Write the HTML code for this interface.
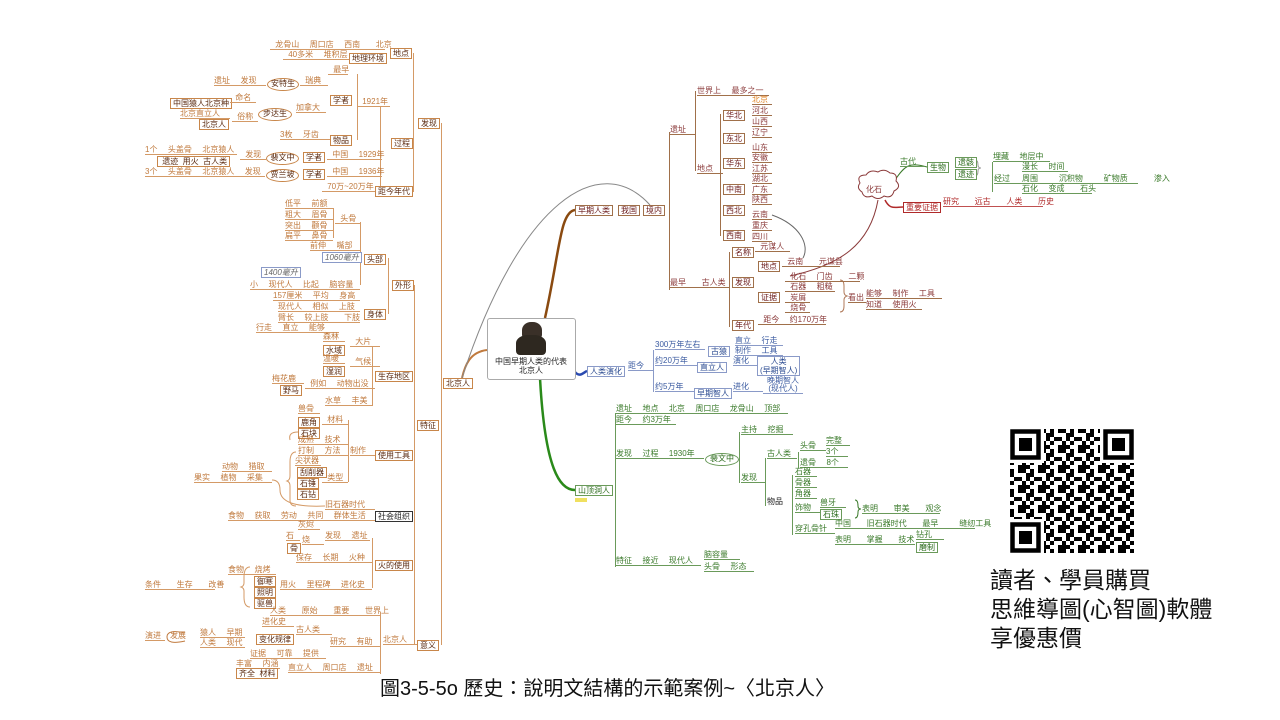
<!DOCTYPE html>
<html><head><meta charset="utf-8">
<style>
body{margin:0;width:1280px;height:720px;background:#fff;position:relative;overflow:hidden;font-family:"Liberation Sans","Noto Sans CJK SC",sans-serif}
div{position:absolute}
.o,.r,.g,.u{font-size:8px;line-height:9px;white-space:pre;word-spacing:3px}
.o{color:#c07a3e;border-bottom:1px solid #d49a66}
.ob{color:#5a2a10;border:1px solid #c8864a;background:#fff;padding:0 2px;font-size:8px;line-height:9px;white-space:pre}
.oe{color:#5a2a10;border:1px solid #c8864a;border-radius:50%;background:#fff;font-size:8px;line-height:10px;text-align:center}
.r{color:#8b3a3a;border-bottom:1px solid #a0704a}
.rb{color:#6a1a1a;border:1px solid #a0704a;background:#fff;padding:0 2px;font-size:8px;line-height:9px;white-space:pre}
.g{color:#3a7a2a;border-bottom:1px solid #6a9a5a}
.gb{color:#2a6a1a;border:1px solid #6a9a5a;background:#fff;padding:0 2px;font-size:8px;line-height:9px;white-space:pre}
.u{color:#3a5aa0;border-bottom:1px solid #8a9ac8}
.ub{color:#2a4a90;border:1px solid #8a9ac8;background:#fff;padding:0 2px;font-size:8px;line-height:9px;white-space:pre;text-align:center}
.vo{border-left:1px solid #d49a66}
.vr{border-left:1px solid #a0704a}
.vg{border-left:1px solid #6a9a5a}
.vu{border-left:1px solid #8a9ac8}
</style></head><body>
<svg width="1280" height="720" style="position:absolute;left:0;top:0">
<path d="M545 318 C560 250,560 212,575 210" stroke="#8a4a10" stroke-width="2.5" fill="none"/>
<path d="M575 372 C580 378,584 372,587 371" stroke="#2a4ab0" stroke-width="2.5" fill="none"/>
<path d="M540 378 C545 470,560 490,575 490" stroke="#2a8a1a" stroke-width="2.5" fill="none"/>
<path d="M487 350 C470 352,465 365,462 378" stroke="#c07a3e" stroke-width="2" fill="none"/>
<path d="M650 205 C600 150,520 200,462 378" stroke="#888" stroke-width="1" fill="none"/>
<path d="M772 215 C800 225,810 245,803 258" stroke="#666" stroke-width="1" fill="none"/>
<path d="M878 200 C870 245,840 265,790 276" stroke="#8b3a3a" stroke-width="1" fill="none"/>
<path d="M895 180 C905 165,910 162,927 167" stroke="#3a7a2a" stroke-width="1" fill="none"/>
<path d="M885 200 C890 210,895 207,903 207" stroke="#b02a2a" stroke-width="1.5" fill="none"/>
<path d="M860 183 q-4 -8 6 -8 q4 -6 12 -3 q6 -4 12 1 q8 0 6 8 q6 6 -2 10 q-2 8 -10 5 q-6 5 -12 0 q-8 3 -10 -4 q-6 -4 -2 -9z" stroke="#8b3a3a" fill="#fff"/>
<path d="M296 452 q-6 0 -6 10 v14 q0 4 -3 5 q3 1 3 5 v14 q0 6 6 6" stroke="#d49a66" fill="none"/>
<path d="M272 480 q8 0 8 10 q0 18 45 16" stroke="#d49a66" fill="none"/>
<path d="M250 567 q-6 0 -6 10 v6 q0 3 -3 4 q3 1 3 4 v6 q0 10 6 10" stroke="#d49a66" fill="none"/>
<path d="M298 432 q-10 0 -8 8" stroke="#d49a66" fill="none"/>
<path d="M185 633 q-18 -4 -18 4 q0 8 18 4" stroke="#c07a3e" fill="none"/>
<path d="M975 160 q3 0 3 5 q0 3 3 3 q-3 0 -3 3 q0 5 -3 5" stroke="#999" fill="none"/>
<path d="M840 280 q4 0 4 6 v6 q0 3 3 4 q-3 1 -3 4 v6 q0 6 -4 6" stroke="#b07a5a" fill="none"/>
<path d="M855 500 q3 0 3 6 q0 3 3 3 q-3 0 -3 3 q0 6 -3 6" stroke="#3a7a2a" fill="none"/>
</svg>

<!-- center -->
<div style="left:487px;top:318px;width:87px;height:60px;border:1px solid #aaa;border-radius:3px;background:#fff"></div>
<div style="left:522px;top:322px;width:20px;height:18px;background:#3a3028;border-radius:45% 45% 30% 30%"></div>
<div style="left:516px;top:335px;width:30px;height:20px;background:#2e2820;border-radius:40% 40% 4px 4px"></div>
<div style="left:487px;top:357px;width:88px;text-align:center;font-size:8px;line-height:9px;color:#222">中国早期人类的代表<br>北京人</div>

<!-- LEFT orange -->
<div class="vo" style="left:441px;top:123px;height:522px"></div>
<div class="ob" style="left:443px;top:378px">北京人</div>
<div class="ob" style="left:418px;top:118px">发现</div>
<div class="vo" style="left:413px;top:53px;height:139px"></div>
<div class="o" style="left:270px;top:40px;width:115px"> 龙骨山  周口店  西南   北京</div>
<div class="ob" style="left:390px;top:48px">地点</div>
<div class="o" style="left:283px;top:50px;width:66px"> 40多米  堆积层</div>
<div class="ob" style="left:349px;top:53px">地理环境</div>
<div class="o" style="left:328px;top:65px;width:20px"> 最早</div>
<div class="vo" style="left:357px;top:74px;height:66px"></div>
<div class="o" style="left:214px;top:76px;width:52px">遗址  发现</div>
<div class="oe" style="left:267px;top:78px;width:30px;height:11px">安特生</div>
<div class="o" style="left:300px;top:76px;width:28px"> 瑞典</div>
<div class="ob" style="left:330px;top:95px">学者</div>
<div class="o" style="left:357px;top:97px;width:33px"> 1921年</div>
<div class="vo" style="left:380px;top:106px;height:80px"></div>
<div class="ob" style="left:170px;top:98px">中国猿人北京种</div>
<div class="o" style="left:230px;top:93px;width:26px"> 命名</div>
<div class="oe" style="left:258px;top:108px;width:32px;height:11px">步达生</div>
<div class="o" style="left:296px;top:103px;width:30px">加拿大</div>
<div class="o" style="left:180px;top:109px;width:50px">北京直立人</div>
<div class="o" style="left:232px;top:112px;width:26px"> 俗称</div>
<div class="ob" style="left:199px;top:119px">北京人</div>
<div class="o" style="left:280px;top:130px;width:50px">3枚  牙齿</div>
<div class="ob" style="left:330px;top:135px">物品</div>
<div class="ob" style="left:391px;top:138px">过程</div>
<div class="o" style="left:145px;top:145px;width:92px">1个  头盖骨  北京猿人</div>
<div class="o" style="left:240px;top:150px;width:26px"> 发现</div>
<div class="ob" style="left:157px;top:156px"> 遗迹  用火  古人类</div>
<div class="oe" style="left:266px;top:152px;width:31px;height:11px">裴文中</div>
<div class="ob" style="left:303px;top:152px">学者</div>
<div class="o" style="left:327px;top:150px;width:55px"> 中国  1929年</div>
<div class="o" style="left:145px;top:167px;width:120px">3个  头盖骨  北京猿人  发现</div>
<div class="oe" style="left:266px;top:169px;width:31px;height:11px">贾兰坡</div>
<div class="ob" style="left:303px;top:169px">学者</div>
<div class="o" style="left:327px;top:167px;width:55px"> 中国  1936年</div>
<div class="o" style="left:322px;top:182px;width:53px"> 70万~20万年</div>
<div class="ob" style="left:375px;top:186px">距今年代</div>

<div class="o" style="left:285px;top:199px;width:48px">低平  前额</div>
<div class="o" style="left:285px;top:210px;width:48px">粗大  眉骨</div>
<div class="o" style="left:285px;top:221px;width:48px">突出  颧骨</div>
<div class="o" style="left:285px;top:231px;width:48px">扁平  鼻骨</div>
<div class="vo" style="left:333px;top:208px;height:30px"></div>
<div class="o" style="left:335px;top:214px;width:26px"> 头骨</div>
<div class="vo" style="left:360px;top:222px;height:63px"></div>
<div class="o" style="left:310px;top:241px;width:50px">前伸  嘴部</div>
<div class="ub" style="left:322px;top:252px;font-style:italic;color:#666">1060毫升</div>
<div class="ob" style="left:364px;top:254px">头部</div>
<div class="ub" style="left:261px;top:267px;font-style:italic;color:#666">1400毫升</div>
<div class="o" style="left:250px;top:280px;width:110px">小  现代人  比起  脑容量</div>
<div class="ob" style="left:392px;top:280px">外形</div>
<div class="vo" style="left:388px;top:258px;height:56px"></div>
<div class="o" style="left:273px;top:291px;width:87px">157厘米  平均  身高</div>
<div class="o" style="left:278px;top:302px;width:82px">现代人  相似  上肢</div>
<div class="ob" style="left:364px;top:309px">身体</div>
<div class="o" style="left:278px;top:313px;width:82px">臂长  较上肢   下肢</div>
<div class="o" style="left:256px;top:323px;width:83px">行走  直立  能够</div>
<div class="vo" style="left:414px;top:285px;height:360px"></div>
<div class="o" style="left:323px;top:332px;width:22px">森林</div>
<div class="ob" style="left:323px;top:345px">水域</div>
<div class="o" style="left:350px;top:337px;width:30px"> 大片</div>
<div class="o" style="left:323px;top:354px;width:22px">温暖</div>
<div class="ob" style="left:323px;top:366px">湿润</div>
<div class="o" style="left:350px;top:357px;width:30px"> 气候</div>
<div class="vo" style="left:372px;top:346px;height:60px"></div>
<div class="ob" style="left:375px;top:371px">生存地区</div>
<div class="o" style="left:272px;top:374px;width:32px">梅花鹿</div>
<div class="ob" style="left:280px;top:385px">野马</div>
<div class="o" style="left:305px;top:379px;width:70px"> 例如  动物出没</div>
<div class="o" style="left:325px;top:396px;width:47px">水草  丰美</div>
<div class="ob" style="left:417px;top:420px">特征</div>
<div class="o" style="left:298px;top:404px;width:22px">兽骨</div>
<div class="ob" style="left:298px;top:417px">鹿角</div>
<div class="o" style="left:322px;top:415px;width:26px"> 材料</div>
<div class="ob" style="left:298px;top:428px">石块</div>
<div class="o" style="left:298px;top:435px;width:50px">成熟  技术</div>
<div class="o" style="left:298px;top:446px;width:50px">打制  方法</div>
<div class="vo" style="left:348px;top:420px;height:62px"></div>
<div class="o" style="left:350px;top:446px;width:25px">制作</div>
<div class="ob" style="left:375px;top:450px">使用工具</div>
<div class="o" style="left:295px;top:456px;width:26px">尖状器</div>
<div class="ob" style="left:297px;top:467px">刮削器</div>
<div class="ob" style="left:297px;top:478px">石锤</div>
<div class="o" style="left:322px;top:473px;width:26px"> 类型</div>
<div class="ob" style="left:297px;top:489px">石钻</div>
<div class="o" style="left:222px;top:462px;width:50px">动物  猎取</div>
<div class="o" style="left:194px;top:473px;width:78px">果实  植物  采集</div>
<div class="o" style="left:325px;top:500px;width:50px">旧石器时代</div>
<div class="o" style="left:228px;top:511px;width:147px">食物  获取  劳动  共同  群体生活</div>
<div class="ob" style="left:375px;top:511px;color:#222;border-color:#333">社会组织</div>
<div class="o" style="left:298px;top:520px;width:22px">灰烬</div>
<div class="o" style="left:286px;top:531px;width:14px">石</div>
<div class="ob" style="left:287px;top:543px">骨</div>
<div class="o" style="left:302px;top:535px;width:22px">烧</div>
<div class="o" style="left:325px;top:531px;width:45px">发现  遗址</div>
<div class="vo" style="left:372px;top:538px;height:50px"></div>
<div class="o" style="left:296px;top:553px;width:76px">保存  长期  火种</div>
<div class="ob" style="left:375px;top:560px">火的使用</div>
<div class="o" style="left:228px;top:565px;width:48px">食物  烧烤</div>
<div class="ob" style="left:254px;top:576px">御寒</div>
<div class="o" style="left:145px;top:580px;width:70px">条件   生存   改善</div>
<div class="o" style="left:280px;top:580px;width:92px">用火  里程碑  进化史</div>
<div class="ob" style="left:254px;top:587px">照明</div>
<div class="ob" style="left:254px;top:598px">驱兽</div>
<div class="o" style="left:270px;top:606px;width:110px">人类   原始   重要   世界上</div>
<div class="vo" style="left:380px;top:612px;height:62px"></div>
<div class="o" style="left:262px;top:617px;width:32px">进化史</div>
<div class="o" style="left:296px;top:625px;width:36px">古人类</div>
<div class="o" style="left:145px;top:631px;width:20px">演进</div>
<div class="o" style="left:170px;top:631px;width:18px;border:none">发展</div>
<div class="o" style="left:200px;top:628px;width:45px">猿人  早期</div>
<div class="ob" style="left:256px;top:634px">变化规律</div>
<div class="o" style="left:200px;top:638px;width:45px">人类  现代</div>
<div class="o" style="left:330px;top:637px;width:50px">研究  有助</div>
<div class="o" style="left:383px;top:635px;width:34px">北京人</div>
<div class="ob" style="left:417px;top:640px">意义</div>
<div class="o" style="left:250px;top:649px;width:76px">证据  可靠  提供</div>
<div class="o" style="left:236px;top:659px;width:44px">丰富  内涵</div>
<div class="ob" style="left:236px;top:668px">齐全  材料</div>
<div class="o" style="left:288px;top:663px;width:92px">直立人  周口店  遗址</div>

<!-- RIGHT red -->
<div class="rb" style="left:575px;top:205px">早期人类</div>
<div class="rb" style="left:618px;top:205px">我国</div>
<div class="rb" style="left:643px;top:205px">境内</div>
<div class="vr" style="left:669px;top:132px;height:158px"></div>
<div class="r" style="left:670px;top:125px;width:25px">遗址</div>
<div class="vr" style="left:695px;top:91px;height:80px"></div>
<div class="r" style="left:697px;top:86px;width:72px">世界上  最多之一</div>
<div class="r" style="left:697px;top:164px;width:26px">地点</div>
<div class="vr" style="left:720px;top:114px;height:122px"></div>
<div class="rb" style="left:723px;top:110px">华北</div>
<div class="rb" style="left:723px;top:133px">东北</div>
<div class="rb" style="left:723px;top:158px">华东</div>
<div class="rb" style="left:723px;top:184px">中南</div>
<div class="rb" style="left:723px;top:205px">西北</div>
<div class="rb" style="left:723px;top:230px">西南</div>
<div class="r" style="left:752px;top:95px;width:20px;color:#e08020">北京</div>
<div class="r" style="left:752px;top:106px;width:20px">河北</div>
<div class="r" style="left:752px;top:117px;width:20px">山西</div>
<div class="r" style="left:752px;top:128px;width:20px">辽宁</div>
<div class="r" style="left:752px;top:143px;width:20px">山东</div>
<div class="r" style="left:752px;top:153px;width:20px">安徽</div>
<div class="r" style="left:752px;top:164px;width:20px">江苏</div>
<div class="r" style="left:752px;top:174px;width:20px">湖北</div>
<div class="r" style="left:752px;top:185px;width:20px">广东</div>
<div class="r" style="left:752px;top:195px;width:20px">陕西</div>
<div class="r" style="left:752px;top:210px;width:20px">云南</div>
<div class="r" style="left:752px;top:221px;width:20px">重庆</div>
<div class="r" style="left:752px;top:232px;width:20px">四川</div>
<div class="r" style="left:670px;top:278px;width:60px">最早   古人类</div>
<div class="vr" style="left:729px;top:252px;height:75px"></div>
<div class="rb" style="left:732px;top:247px">名称</div>
<div class="r" style="left:755px;top:242px;width:35px"> 元谋人</div>
<div class="rb" style="left:758px;top:261px">地点</div>
<div class="r" style="left:782px;top:257px;width:58px"> 云南   元谋县</div>
<div class="rb" style="left:732px;top:277px">发现</div>
<div class="r" style="left:785px;top:272px;width:75px"> 化石  门齿   二颗</div>
<div class="rb" style="left:758px;top:292px">证据</div>
<div class="r" style="left:785px;top:282px;width:50px"> 石器  粗糙</div>
<div class="r" style="left:785px;top:293px;width:25px"> 炭屑</div>
<div class="r" style="left:785px;top:303px;width:25px"> 烧骨</div>
<div class="r" style="left:848px;top:293px;width:18px">看出</div>
<div class="r" style="left:866px;top:289px;width:76px">能够  制作  工具</div>
<div class="r" style="left:866px;top:300px;width:56px">知道  使用火</div>
<div class="rb" style="left:732px;top:320px">年代</div>
<div class="r" style="left:758px;top:315px;width:68px"> 距今  约170万年</div>
<div style="left:866px;top:184px;font-size:8px;color:#8b3a3a">化石</div>
<div class="g" style="left:900px;top:157px;width:24px">古代</div>
<div class="gb" style="left:927px;top:162px">生物</div>
<div class="gb" style="left:955px;top:157px">遗骸</div>
<div class="gb" style="left:955px;top:169px">遗迹</div>
<div class="g" style="left:993px;top:152px;width:57px">埋藏  地层中</div>
<div class="vg" style="left:992px;top:162px;height:30px"></div>
<div class="g" style="left:1022px;top:162px;width:46px">漫长  时间</div>
<div class="g" style="left:994px;top:174px;width:28px">经过</div>
<div class="g" style="left:1022px;top:174px;width:116px">周围    沉积物    矿物质     渗入</div>
<div class="g" style="left:1022px;top:184px;width:70px">石化  变成   石头</div>
<div class="rb" style="left:903px;top:202px;color:#b02a2a;border-color:#b02a2a">重要证据</div>
<div class="r" style="left:943px;top:197px;width:100px;color:#b02a2a;border-color:#c05050">研究   远古   人类   历史</div>

<!-- blue -->
<div class="ub" style="left:587px;top:366px">人类演化</div>
<div class="u" style="left:628px;top:361px;width:25px">距今</div>
<div class="vu" style="left:653px;top:350px;height:42px"></div>
<div class="u" style="left:655px;top:340px;width:50px">300万年左右</div>
<div class="ub" style="left:708px;top:346px">古猿</div>
<div class="u" style="left:735px;top:336px;width:48px">直立  行走</div>
<div class="u" style="left:735px;top:346px;width:48px">制作  工具</div>
<div class="u" style="left:655px;top:356px;width:42px">约20万年</div>
<div class="ub" style="left:697px;top:362px">直立人</div>
<div class="u" style="left:733px;top:356px;width:24px">演化</div>
<div class="ub" style="left:757px;top:356px">人类<br>(早期智人)</div>
<div class="u" style="left:655px;top:382px;width:40px">约5万年</div>
<div class="ub" style="left:694px;top:388px">早期智人</div>
<div class="u" style="left:733px;top:382px;width:30px">进化</div>
<div class="u" style="left:763px;top:377px;width:40px;line-height:8px;text-align:center">晚期智人<br>(现代人)</div>

<!-- green -->
<div class="gb" style="left:575px;top:485px">山顶洞人</div>
<div style="left:575px;top:498px;width:12px;height:4px;background:#f0e060"></div>
<div class="vg" style="left:615px;top:413px;height:154px"></div>
<div class="g" style="left:616px;top:404px;width:172px">遗址  地点  北京  周口店  龙骨山  顶部</div>
<div class="g" style="left:616px;top:415px;width:60px">距今  约3万年</div>
<div class="g" style="left:616px;top:449px;width:88px">发现  过程  1930年</div>
<div class="oe" style="left:705px;top:453px;width:32px;height:11px;color:#2a6a1a;border-color:#6a9a5a">裴文中</div>
<div class="vg" style="left:739px;top:432px;height:51px"></div>
<div class="g" style="left:741px;top:425px;width:52px">主持  挖掘</div>
<div class="g" style="left:741px;top:473px;width:25px">发现</div>
<div class="vg" style="left:765px;top:458px;height:48px"></div>
<div class="g" style="left:767px;top:449px;width:30px">古人类</div>
<div class="vg" style="left:798px;top:452px;height:16px"></div>
<div class="g" style="left:800px;top:441px;width:26px">头骨</div>
<div class="g" style="left:826px;top:436px;width:24px">完整</div>
<div class="g" style="left:826px;top:447px;width:22px">3个</div>
<div class="g" style="left:800px;top:458px;width:48px">遗骨  8个</div>
<div class="g" style="left:767px;top:497px;width:24px;border:none;color:#222">物品</div>
<div class="vg" style="left:792px;top:475px;height:60px"></div>
<div class="g" style="left:795px;top:467px;width:22px">石器</div>
<div class="g" style="left:795px;top:478px;width:22px">骨器</div>
<div class="g" style="left:795px;top:489px;width:22px">角器</div>
<div class="g" style="left:795px;top:503px;width:25px">饰物</div>
<div class="g" style="left:820px;top:498px;width:26px">兽牙</div>
<div class="gb" style="left:820px;top:509px">石珠</div>
<div class="g" style="left:862px;top:504px;width:78px">表明   审美   观念</div>
<div class="g" style="left:795px;top:524px;width:40px">穿孔骨针</div>
<div class="g" style="left:835px;top:519px;width:140px">中国   旧石器时代   最早    缝纫工具</div>
<div class="g" style="left:835px;top:535px;width:80px">表明   掌握   技术</div>
<div class="g" style="left:916px;top:530px;width:28px">钻孔</div>
<div class="gb" style="left:916px;top:542px">磨制</div>
<div class="g" style="left:616px;top:556px;width:85px">特征  接近  现代人</div>
<div class="g" style="left:704px;top:550px;width:36px">脑容量</div>
<div class="g" style="left:704px;top:562px;width:50px">头骨  形态</div>

<!-- QR -->
<svg width="124" height="124" style="position:absolute;left:1010px;top:429px">
<defs><pattern id="q" width="20" height="20" patternUnits="userSpaceOnUse">
<rect x="0" y="0" width="4" height="8" fill="#000"/><rect x="8" y="0" width="8" height="4" fill="#000"/><rect x="4" y="8" width="8" height="4" fill="#000"/><rect x="16" y="4" width="4" height="8" fill="#000"/><rect x="0" y="12" width="4" height="4" fill="#000"/><rect x="8" y="16" width="12" height="4" fill="#000"/><rect x="12" y="12" width="4" height="4" fill="#000"/></pattern></defs>
<rect width="124" height="124" fill="url(#q)"/>
<g fill="#fff"><rect x="0" y="0" width="34" height="34"/><rect x="90" y="0" width="34" height="34"/><rect x="0" y="90" width="34" height="34"/></g>
<g fill="none" stroke="#000" stroke-width="4.5"><rect x="2.5" y="2.5" width="26" height="26"/><rect x="95.5" y="2.5" width="26" height="26"/><rect x="2.5" y="95.5" width="26" height="26"/></g>
<g fill="#000"><rect x="9" y="9" width="13" height="13"/><rect x="102" y="9" width="13" height="13"/><rect x="9" y="102" width="13" height="13"/></g>
</svg>
<div style="left:990px;top:566px;font-size:23px;line-height:29px;color:#111;font-family:'Liberation Sans','Noto Sans CJK TC',sans-serif">讀者、學員購買<br>思維導圖(心智圖)軟體<br>享優惠價</div>
<div style="left:380px;top:677px;font-size:20px;line-height:24px;color:#111;white-space:pre;font-family:'Liberation Sans','Noto Sans CJK TC',sans-serif">圖3-5-5o 歷史：說明文結構的示範案例~〈北京人〉</div>
</body></html>
